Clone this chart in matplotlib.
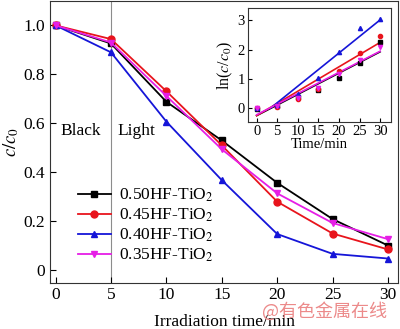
import matplotlib
matplotlib.use("Agg")
import matplotlib.pyplot as plt

plt.rcParams["font.family"] = ["Liberation Serif", "DejaVu Serif"]
plt.rcParams["mathtext.fontset"] = "stix"

# main panel: c/c0 vs irradiation time
time = [0, 5, 10, 15, 20, 25, 30]
labels = ["0.50HF-TiO$_2$", "0.45HF-TiO$_2$", "0.40HF-TiO$_2$", "0.35HF-TiO$_2$"]
c_050 = [1.0, 0.926, 0.688, 0.530, 0.357, 0.209, 0.101]
c_045 = [1.0, 0.944, 0.731, 0.510, 0.280, 0.150, 0.085]
c_040 = [1.0, 0.890, 0.607, 0.368, 0.148, 0.067, 0.048]
c_035 = [1.0, 0.930, 0.712, 0.494, 0.314, 0.193, 0.127]

# inset: ln(c0/c) points and fitted lines (end points)
ln_050 = [-0.02, 0.07, 0.37, 0.63, 1.03, 1.55, 2.28]
ln_045 = [0.00, 0.06, 0.31, 0.66, 1.27, 1.90, 2.46]
ln_040 = [0.00, 0.12, 0.50, 1.02, 1.93, 2.73, 3.05]
ln_035 = [0.00, 0.07, 0.34, 0.70, 1.17, 1.66, 2.08]
fit_x = [[0, 30], [0, 30], [3.5, 30], [0, 30]]
fit_y = [[-0.25, 1.93], [-0.25, 2.25], [0.02, 3.02], [-0.22, 1.95]]

colors = ["#000000", "#e8141c", "#1515d8", "#e61ee6"]
markers = ["s", "o", "^", "v"]
series = [c_050, c_045, c_040, c_035]
ln_series = [ln_050, ln_045, ln_040, ln_035]

fig = plt.figure(figsize=(4.0, 3.29), dpi=100)
ax = fig.add_axes([0.125, 0.1413, 0.87, 0.856])

ax.axvline(5, color="#8c8c8c", lw=0.8, zorder=1)
for y, lab, col, mk in zip(series, labels, colors, markers):
    ax.plot(time, y, "-", marker=mk, color=col, lw=1.3, ms=5, label=lab, zorder=3)

ax.set_xlim(-0.5, 30.9)
ax.set_ylim(-0.05, 1.1)
ax.set_xticks(time)
ax.set_yticks([0, 0.2, 0.4, 0.6, 0.8, 1.0])
ax.set_yticklabels(["0", "0.2", "0.4", "0.6", "0.8", "1.0"])
ax.tick_params(direction="in", labelsize=12.5, length=4, top=False, right=False)
ax.set_xlabel("Irradiation time/min", fontsize=12.5, labelpad=8)
ax.set_ylabel("$c/c_0$", fontsize=13.5, labelpad=2)
for s in ax.spines.values():
    s.set_color("#333333")

ax.text(0.45, 0.57, "Black", fontsize=12.5, va="center")
ax.text(5.6, 0.57, "Light", fontsize=12.5, va="center")

ax.legend(frameon=False, fontsize=12.5, loc="upper left",
          bbox_to_anchor=(0.06, 0.365), handlelength=1.9, handletextpad=0.5,
          labelspacing=0.15, borderaxespad=0)

fig.text(0.655, 0.053, "@有色金属在线", fontsize=13, color="#ec8a8a",
         family=["Noto Sans CJK SC", "DejaVu Sans"], va="center")

# inset
ins = fig.add_axes([0.619, 0.629, 0.358, 0.347])
for y, fx, fy, col, mk in zip(ln_series, fit_x, fit_y, colors, markers):
    ins.plot(time, y, ls="none", marker=mk, color=col, ms=3, zorder=3)
    ins.plot(fx, fy, "-", color=col, lw=1.2, zorder=2)
ins.set_xlim(-2.2, 32.6)
ins.set_ylim(-0.47, 3.43)
ins.set_xticks(time)
ins.set_yticks([0, 1, 2, 3])
ins.tick_params(direction="in", labelsize=10.5, length=3, pad=2)
ins.set_xlabel("Time/min", fontsize=10.5, labelpad=0)
ins.set_ylabel("ln($c$/$c_0$)", fontsize=11.5, labelpad=2)
for s in ins.spines.values():
    s.set_color("#333333")

fig.savefig("out.png", dpi=100)
